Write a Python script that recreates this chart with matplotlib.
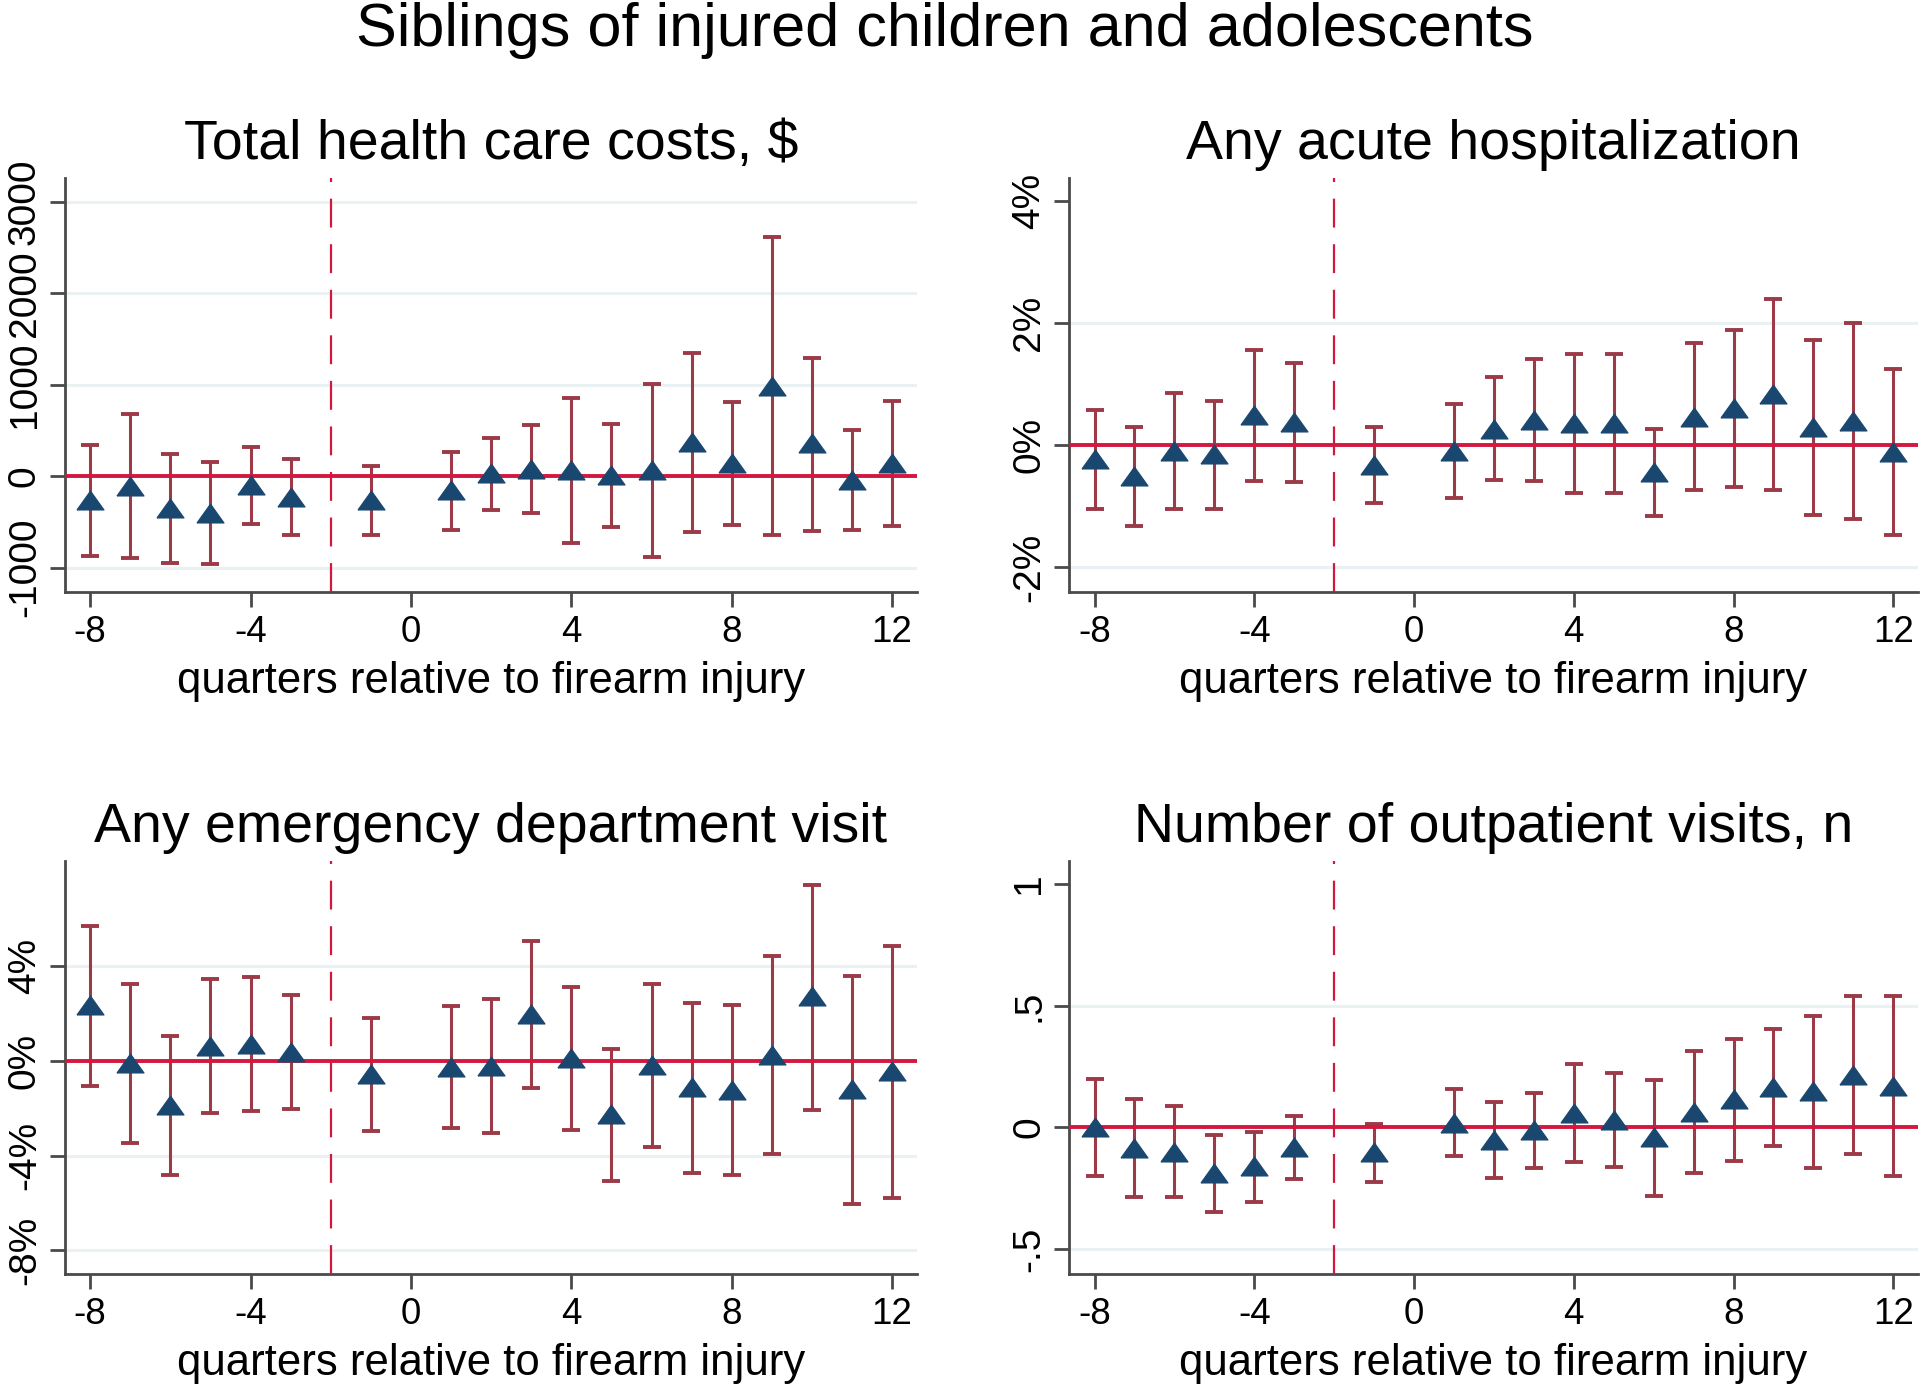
import matplotlib
matplotlib.use("Agg")
import matplotlib.pyplot as plt

plt.rcParams['font.family'] = ['Liberation Sans', 'DejaVu Sans']

# ---------------- data ----------------
quarters = [-8, -7, -6, -5, -4, -3, -1, 1, 2, 3, 4, 5, 6, 7, 8, 9, 10, 11, 12]

cost_est = [-262, -104, -345, -402, -94, -227, -265, -155, 30, 80, 66, 9, 64, 370, 148, 990, 360, -42, 148]
cost_lo = [-869, -898, -949, -963, -522, -646, -646, -584, -372, -398, -726, -558, -880, -613, -536, -646, -595, -584, -547]
cost_hi = [340, 682, 245, 150, 321, 190, 109, 259, 416, 555, 858, 573, 1004, 1343, 814, 2613, 1288, 504, 825]

hosp_est = [-0.23, -0.50, -0.09, -0.15, 0.49, 0.38, -0.33, -0.09, 0.27, 0.41, 0.36, 0.36, -0.44, 0.46, 0.60, 0.84, 0.30, 0.39, -0.11]
hosp_lo = [-1.05, -1.32, -1.05, -1.05, -0.59, -0.60, -0.95, -0.87, -0.58, -0.59, -0.78, -0.78, -1.16, -0.74, -0.68, -0.74, -1.15, -1.22, -1.48]
hosp_hi = [0.58, 0.30, 0.85, 0.73, 1.56, 1.35, 0.30, 0.68, 1.12, 1.41, 1.49, 1.49, 0.26, 1.67, 1.89, 2.40, 1.73, 2.01, 1.25]

ed_est = [2.38, -0.10, -1.85, 0.65, 0.73, 0.38, -0.54, -0.27, -0.22, 1.98, 0.14, -2.24, -0.19, -1.12, -1.22, 0.25, 2.73, -1.19, -0.42]
ed_lo = [-1.04, -3.46, -4.80, -2.18, -2.13, -2.03, -2.96, -2.83, -3.04, -1.13, -2.90, -5.06, -3.63, -4.73, -4.80, -3.92, -2.06, -6.03, -5.77]
ed_hi = [5.70, 3.27, 1.07, 3.46, 3.55, 2.80, 1.83, 2.31, 2.61, 5.07, 3.13, 0.51, 3.24, 2.45, 2.35, 4.42, 7.44, 3.61, 4.86]

op_est = [0.0, -0.086, -0.10, -0.185, -0.158, -0.082, -0.10, 0.02, -0.05, -0.01, 0.06, 0.031, -0.041, 0.063, 0.115, 0.168, 0.148, 0.216, 0.172]
op_lo = [-0.20, -0.287, -0.287, -0.348, -0.305, -0.213, -0.223, -0.117, -0.209, -0.168, -0.141, -0.164, -0.281, -0.186, -0.137, -0.075, -0.168, -0.107, -0.198]
op_hi = [0.20, 0.115, 0.087, -0.029, -0.018, 0.046, 0.014, 0.156, 0.105, 0.143, 0.262, 0.224, 0.194, 0.314, 0.363, 0.403, 0.456, 0.538, 0.538]

titles = ["Total health care costs, $", "Any acute hospitalization",
          "Any emergency department visit", "Number of outpatient visits, n"]
suptitle = "Siblings of injured children and adolescents"
xlabel = "quarters relative to firearm injury"

xticks = [-8, -4, 0, 4, 8, 12]
yticks_cost = [-1000, 0, 1000, 2000, 3000]
ylabels_cost = ["-1000", "0", "1000", "2000", "3000"]
yticks_hosp = [-2, 0, 2, 4]
ylabels_hosp = ["-2%", "0%", "2%", "4%"]
yticks_ed = [-8, -4, 0, 4]
ylabels_ed = ["-8%", "-4%", "0%", "4%"]
yticks_op = [-0.5, 0, 0.5, 1]
ylabels_op = ["-.5", "0", ".5", "1"]

grid_cost = [-1000, 1000, 2000, 3000]
grid_hosp = [-2, 2]
grid_ed = [-8, -4, 4]
grid_op = [-0.5, 0.5]

ref_quarter = -2

# ---------------- styling ----------------
W, H = 1920, 1388
DPI = 100
NAVY = '#1a476f'
CRAN = '#9c3a48'
RED = '#d3173f'
GRID = '#e9f1f3'
AXC = '#4a4a4a'

# wide, flat triangle marker (Stata-like)
TRI = [(-1.0, -0.7), (1.0, -0.7), (0.0, 0.7), (-1.0, -0.7)]

fig = plt.figure(figsize=(W / DPI, H / DPI), dpi=DPI)
fig.patch.set_facecolor('white')

# axes boxes in pixels: (left, right, top, bottom)
boxes = [(64.5, 917, 178, 592), (1069, 1918, 178, 592),
         (64.5, 917, 861, 1274), (1069, 1918, 861, 1274)]

panels = [
    (cost_est, cost_lo, cost_hi, yticks_cost, ylabels_cost, grid_cost, (-1266, 3259)),
    (hosp_est, hosp_lo, hosp_hi, yticks_hosp, ylabels_hosp, grid_hosp, (-2.41, 4.38)),
    (ed_est, ed_lo, ed_hi, yticks_ed, ylabels_ed, grid_ed, (-9.0, 8.45)),
    (op_est, op_lo, op_hi, yticks_op, ylabels_op, grid_op, (-0.601, 1.093)),
]

for i, (box, pan, title) in enumerate(zip(boxes, panels, titles)):
    l, r, t, b = box
    ax = fig.add_axes([l / W, 1 - b / H, (r - l) / W, (b - t) / H])
    est, lo, hi, yt, yl, gr, ylim = pan
    ax.set_xlim(-8.64, 12.62)
    ax.set_ylim(*ylim)

    for g in gr:
        ax.axhline(g, color=GRID, lw=2.2, zorder=0.5)

    yerr_lo = [e - a for e, a in zip(est, lo)]
    yerr_hi = [c - e for e, c in zip(est, hi)]
    ax.errorbar(quarters, est, yerr=[yerr_lo, yerr_hi], fmt='none',
                ecolor=CRAN, elinewidth=2.2, capsize=6.8, capthick=2.8, zorder=2)
    ax.axhline(0, color=RED, lw=2.8, zorder=3)
    ax.axvline(ref_quarter, color=RED, lw=1.6, dashes=(13, 7.5), zorder=3)
    ax.plot(quarters, est, linestyle='none', marker=TRI, ms=19.5,
            color=NAVY, mec=NAVY, mew=0.8, zorder=4)

    for s in ['top', 'right']:
        ax.spines[s].set_visible(False)
    for s in ['left', 'bottom']:
        ax.spines[s].set_color(AXC)
        ax.spines[s].set_linewidth(2.0)

    ax.set_xticks(xticks)
    ax.set_xticklabels([str(v) for v in xticks])
    ax.set_yticks(yt)
    ax.set_yticklabels(yl)
    ax.tick_params(axis='both', direction='out', length=10.5, width=2.0,
                   color=AXC, labelcolor='black')
    ax.tick_params(axis='x', pad=6, labelsize=26.5)
    ax.tick_params(axis='y', pad=5, labelsize=28)
    for lab in ax.get_yticklabels():
        lab.set_rotation(90)
        lab.set_va('center')
        lab.set_ha('right')

    cx = (l + r) / 2 / W
    fig.text(cx, 1 - (t - 19) / H, title, ha='center', va='baseline',
             fontsize=40, color='black')
    fig.text(cx, 1 - (b + 101) / H, xlabel, ha='center', va='baseline',
             fontsize=31.5, color='black')

fig.text(945 / W, 1 - 46 / H, suptitle, ha='center', va='baseline',
         fontsize=44, color='black')

fig.savefig('out.png', dpi=DPI, facecolor='white')
